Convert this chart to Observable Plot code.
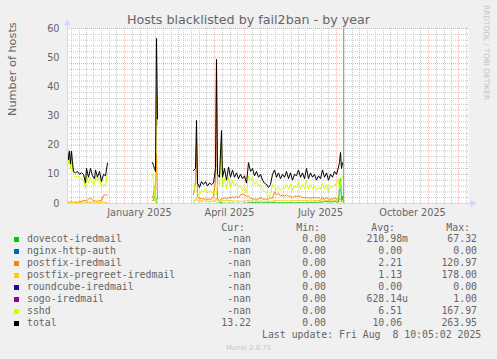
<!DOCTYPE html>
<html><head><meta charset="utf-8">
<script src="https://cdn.jsdelivr.net/npm/d3@7"></script>
<script src="https://cdn.jsdelivr.net/npm/@observablehq/plot@0.6"></script>
<style>
html,body{margin:0;padding:0;background:#F0F0F0;}
#wrap{position:relative;width:497px;height:359px;overflow:hidden;background:#F0F0F0;font-family:"DejaVu Sans";color:#666;}
#chart{position:absolute;left:0;top:0;}
.abs{position:absolute;white-space:pre;}
.mono{font-family:"DejaVu Sans Mono";font-size:9.85px;line-height:12px;height:12px;color:#666;}
</style></head><body><div id="wrap"><div id="chart"></div></div>
<script>
// ---- data (daily values; null = no data) ----
const dates = [
 "2024-11-05","2024-11-06","2024-11-07","2024-11-08","2024-11-09","2024-11-10","2024-11-11","2024-11-13","2024-11-15","2024-11-17","2024-11-19","2024-11-21","2024-11-23","2024-11-24","2024-11-26","2024-11-28","2024-11-30","2024-12-02","2024-12-03","2024-12-05","2024-12-07","2024-12-09","2024-12-11","2024-12-13","2024-12-15",
 "2024-12-16",
 "2025-01-29","2025-01-30","2025-01-31","2025-02-01","2025-02-02","2025-02-03",
 "2025-02-04",
 "2025-03-11","2025-03-13","2025-03-14","2025-03-15","2025-03-17","2025-03-19","2025-03-21","2025-03-23","2025-03-25","2025-03-27","2025-03-29","2025-03-31",
 "2025-04-02","2025-04-03","2025-04-04","2025-04-06","2025-04-08","2025-04-09","2025-04-11","2025-04-13","2025-04-15","2025-04-17","2025-04-19","2025-04-21","2025-04-23","2025-04-25","2025-04-27","2025-04-29",
 "2025-05-01","2025-05-03","2025-05-05","2025-05-07","2025-05-09","2025-05-11","2025-05-13","2025-05-15","2025-05-17","2025-05-19","2025-05-21","2025-05-23","2025-05-25","2025-05-27","2025-05-29","2025-05-31",
 "2025-06-02","2025-06-04","2025-06-06","2025-06-08","2025-06-10","2025-06-12","2025-06-14","2025-06-16","2025-06-18","2025-06-20","2025-06-22","2025-06-24","2025-06-26","2025-06-28","2025-06-30",
 "2025-07-02","2025-07-04","2025-07-06","2025-07-08","2025-07-10","2025-07-12","2025-07-14","2025-07-16","2025-07-18","2025-07-20","2025-07-22","2025-07-24","2025-07-26","2025-07-28","2025-07-30",
 "2025-08-01","2025-08-03","2025-08-04","2025-08-05","2025-08-06","2025-08-07","2025-08-08"
];
const total = [
 18.8,15,18,13.5,18,14,11,10.5,11,10,10.5,10,7,12,9,12,9.5,8.5,11.5,9,11,7.5,10,9.5,13.8,
 null,
 14,13,12,11,56.6,29,
 null,
 11.3,12,28.5,7,5.5,7.5,6.5,7.5,6,7,6.5,7,
 12,49.4,10,9,25,9,12,8,12.5,9,11.5,9,10.5,8.5,10,8.5,
 9.5,7,14,11,12,9.5,11,9,10,8,7,6.5,5.5,6.5,10,11.5,
 9,10.5,8.5,10,9,11,8.5,10.5,8,10,9.5,11.5,9,10.5,8.5,
 12,8.5,10.5,9,10,8,9.5,8.5,11.5,9,10.5,8,10,9,11,
 10,12.5,14,17.5,12,14,13.2
];
const sshd = [
 17,13.5,16.5,12,16,12.5,9.5,9,9.5,8.5,8.5,8,5,9.5,7,9,7,6.5,9.5,7.5,9,5.5,6.5,6,10.5,
 null,
 10,8,3,1.5,1,0.5,
 null,
 7,4,4,3.5,3,4.5,4,5,3.5,4.5,4,3.5,
 3,3,7,6.5,22,6,8.5,5,9,5.5,8,6,7,5.5,6,4.5,
 5.5,3.5,9.5,8,9,6.5,7.5,6,6.5,5,4,3.5,2.5,3,6.5,5.5,
 4.5,5.5,4.5,5.5,5,6.5,5,6.5,4.5,6,5.5,7.5,5,6.5,5,
 8,5,6.5,5,6,4.5,5.5,5,7,5,6.5,4,6,5.5,6.5,
 6.5,8.5,5,7,8.5,9,10
];
const postfix = [
 0.5,0.5,0.4,0.5,0.6,0.5,0.4,0.5,0.4,0.6,0.8,1,1,0.9,1.5,1.8,1.2,1,0.8,0.8,1,1,2.8,3,2.8,
 null,
 2,3,6,6,17,1.5,
 null,
 3,7,22,2.5,1.5,1.8,1.5,1.5,1.5,1.5,1.5,2.5,
 8,44,1.5,1,1.5,1.5,2,1.5,2,2,2.2,2,2.5,2,3,3.2,
 3,2.5,2.5,1.8,1.5,1.5,1.5,1.5,2,1.5,1.5,1.5,1.5,2,1.8,4,
 3,3.5,2.5,3,2.5,3,2.5,2.5,2,2.5,2.5,2.5,2.5,2,2,
 2,2,1.8,2,2,2,2,1.5,2,1.5,2,1.5,1.5,1.5,2,
 1.5,1.5,1.5,1.5,1.5,1.5,1.2
];
const pregreet = [
 0.4,0.4,0.3,0.4,0.4,0.3,0.3,0.4,0.4,0.3,0.5,0.5,0.4,0.5,0.4,0.6,0.5,0.5,0.4,0.4,0.4,0.5,0.5,0.4,0.4,
 null,
 1,1,1,1,38,27,
 null,
 1,1,2,0.8,0.8,1,0.8,0.8,0.8,0.8,0.8,0.8,
 0.8,2,0.8,0.8,1,1,1,1,1,1,1,0.8,0.8,0.8,0.8,0.8,
 0.8,0.8,1.2,0.8,0.8,0.8,1,0.8,0.8,0.8,0.8,0.8,0.8,0.8,0.8,1,
 1,1,0.8,1,1,1,0.8,1,1,1,1,1,1,1,1,
 1,1,1.2,1,1,1,1,1,1.5,1,1,1,1,1,1.2,
 1,1.2,1,0.5,1,1,1
];
const dovecot = [
 0.1,0,0,0,0,0,0,0.1,0,0,0.1,0,0,0.2,0,0.1,0,0,0,0,0.1,0,0,0,0.1,
 null,
 1,1,2.5,2.5,0.5,0,
 null,
 0.2,0,0,0,0,0.1,0,0,0,0.1,0,0,
 0,0.2,0,0.2,0.5,0,0.2,0,0.2,0,0.2,0,0,0.1,0,0,
 0.2,0,0.5,0.2,0.3,0.2,0.5,0.3,0.2,0.2,0.3,0.2,0.3,0.2,0.3,0.5,
 0.2,0.3,0.2,0.3,0.2,0.3,0.2,0.3,0.3,0.2,0.3,0.3,0.2,0.3,0.2,
 0.5,0.3,0.5,0.3,0.5,0.3,0.5,0.5,0.5,0.8,0.5,0.8,0.5,0.5,0.8,
 0.5,0.5,6,8.5,0.5,2.5,0.5
];
// series whose readings are 0 wherever data exists
const zeroWhereData = total.map(v => v == null ? null : 0);
const nginx = zeroWhereData, roundcube = zeroWhereData, sogo = zeroWhereData;

const names  = ["dovecot-iredmail","nginx-http-auth","postfix-iredmail","postfix-pregreet-iredmail","roundcube-iredmail","sogo-iredmail","sshd","total"];
const colors = ["#00CC00","#0066B3","#FF8000","#FFCC00","#330099","#990099","#CCFF00","#000000"];
const curVals = ["-nan","-nan","-nan","-nan","-nan","-nan","-nan","13.22"];
const minVals = ["0.00","0.00","0.00","0.00","0.00","0.00","0.00","0.00"];
const avgVals = ["210.98m","0.00","2.21","1.13","0.00","628.14u","6.51","10.06"];
const maxVals = ["67.32","0.00","120.97","178.00","0.00","1.00","167.97","263.95"];
const yTicks = [0,10,20,30,40,50,60];
const xLabels = ["2025-01-16","2025-04-16","2025-07-16","2025-10-16"];
const lastUpdate = "2025-08-08";

// ---- chart ----
const valuesBySeries = [dovecot, nginx, postfix, pregreet, roundcube, sogo, sshd, total];
const start = new Date("2024-11-05"), end = new Date("2025-12-11");
const months = d3.utcMonth.range(new Date("2024-11-01"), new Date("2026-01-01"));
const majorX = months.filter(d => d >= start && d <= end);
const minorX = months.flatMap(m => [8,16,23].map(o => d3.utcDay.offset(m, o))).filter(d => d >= start && d <= end);
const minorY = d3.range(0, 61, 2).filter(v => v % 10 !== 0);

const lineMarks = valuesBySeries.map((vals, k) =>
  Plot.line(dates.map((d, i) => ({date: new Date(d), value: vals[i]})),
    {x: "date", y: "value", stroke: colors[k], strokeWidth: 1}));

const axisColor = "#CFD6F8";
const minorColor = "#c8c8c8", majorColor = "#eaa6a6", majorColorV = "#efbcbc";
const chart = Plot.plot({
  width: 497, height: 222,
  marginLeft: 67, marginRight: 29, marginTop: 28, marginBottom: 19,
  style: {background: "transparent", fontFamily: "DejaVu Sans", fontSize: "9.7px", color: "#666", overflow: "visible"},
  x: {type: "utc", domain: [start, end]},
  y: {domain: [0, 60]},
  marks: [
    Plot.frame({fill: "white", stroke: "none"}),
    Plot.gridY(minorY, {stroke: minorColor, strokeOpacity: 1, strokeDasharray: "1,1"}),
    Plot.gridX(minorX, {stroke: minorColor, strokeOpacity: 1, strokeDasharray: "1,1"}),
    Plot.gridY(yTicks.filter(v => v > 0), {stroke: majorColor, strokeOpacity: 1, strokeDasharray: "1,1"}),
    Plot.gridX(majorX, {stroke: majorColorV, strokeOpacity: 1, strokeDasharray: "1,1"}),
    Plot.axisY(yTicks, {tickSize: 0, tickPadding: 8, label: null}),
    Plot.axisX(xLabels.map(d => new Date(d)), {tickSize: 0, tickPadding: 6, tickFormat: d3.utcFormat("%B %Y"), label: null}),
    Plot.text(["Number of hosts"], {frameAnchor: "left", rotate: -90, dx: -55, fontSize: 11.3, fill: "#666"}),
    ...lineMarks,
    Plot.ruleX([new Date(lastUpdate)], {stroke: "#a0a0a0", strokeWidth: 1}),
    Plot.ruleX([start], {y1: 0, y2: 61.5, stroke: axisColor}),
    Plot.ruleY([0], {x1: start, x2: new Date("2025-12-14"), stroke: axisColor}),
    Plot.dot([start], {x: d => d, y: 61.8, symbol: "triangle", r: 2.6, fill: axisColor, stroke: "none"}),
    Plot.dot([0], {x: () => new Date("2025-12-15"), y: 0, symbol: "triangle", r: 2.6, rotate: 90, fill: axisColor, stroke: "none"})
  ]
});
document.getElementById("chart").append(chart);

// ---- texts / legend ----
const wrap = document.getElementById("wrap");
function add(html, css, cls) {
  const el = document.createElement("div");
  el.className = "abs " + (cls || "");
  el.textContent = html;
  Object.assign(el.style, css);
  wrap.append(el);
  return el;
}
add("Hosts blacklisted by fail2ban - by year", {left: "0px", width: "497px", textAlign: "center", top: "11.5px", fontSize: "12.7px", lineHeight: "15px", color: "#666"});
add("RRDTOOL / TOBI OETIKER", {left: "482px", top: "5px", fontSize: "7.4px", writingMode: "vertical-rl", color: "#c2c2c2", lineHeight: "9px"});

function rightCol(text, right, center, color) {
  add(text, {left: (right - 200) + "px", width: "200px", textAlign: "right", top: (center - 6) + "px", color: color || "#666"}, "mono");
}
rightCol("Cur:", 245, 228.3);
rightCol("Min:", 320, 228.3);
rightCol("Avg:", 395, 228.3);
rightCol("Max:", 470, 228.3);
names.forEach((n, i) => {
  const c = 239.3 + 12 * i;
  const sq = document.createElement("div");
  Object.assign(sq.style, {position: "absolute", left: "14px", top: (c - 2.6) + "px", width: "5.3px", height: "5.3px", background: colors[i]});
  wrap.append(sq);
  add(n, {left: "27px", top: (c - 6) + "px"}, "mono");
  rightCol(curVals[i], 251, c);
  rightCol(minVals[i], 326, c);
  const a = avgVals[i];
  rightCol(/[a-zA-Z]$/.test(a) ? a : a + " ", 408, c);
  rightCol(maxVals[i], 477, c);
});
add("Last update: Fri Aug  8 10:05:02 2025", {left: "262px", top: (335 - 6) + "px"}, "mono");
add("Munin 2.0.75", {left: "0px", width: "497px", textAlign: "center", top: "343px", fontSize: "6.9px", lineHeight: "10px", color: "#c4c4c4"});
</script></body></html>
